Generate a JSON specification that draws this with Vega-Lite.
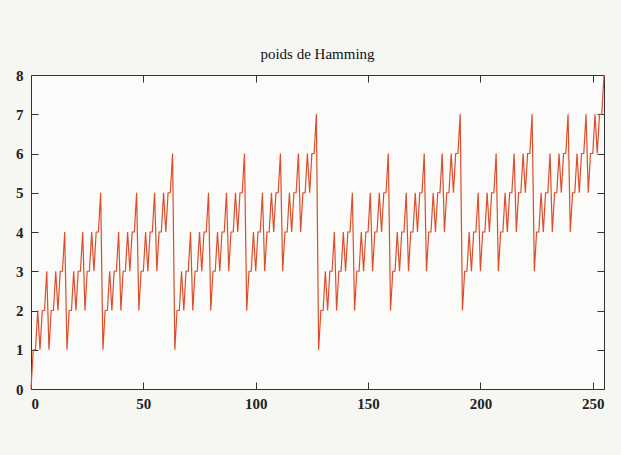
{
  "$schema": "https://vega.github.io/schema/vega-lite/v6.json",
  "autosize": {"type": "none"},
  "width": 573,
  "height": 314,
  "padding": {"left": 31, "top": 75, "right": 17, "bottom": 66},
  "background": "#f6f6f2",
  "title": {"text": "poids de Hamming", "font": "Liberation Serif", "fontSize": 15, "fontWeight": "normal", "color": "#111", "offset": 6},
  "config": {
    "view": {"stroke": "#333", "strokeWidth": 1, "fill": "#fbfbf9"},
    "axis": {"grid": false, "domain": false, "tickSize": -7, "tickColor": "#333", "labelFont": "Liberation Serif", "labelFontSize": 15, "labelFontWeight": "bold", "labelColor": "#222", "title": null}
  },
  "data": {"values": [
{"n":0,"w":0},{"n":1,"w":1},{"n":2,"w":1},{"n":3,"w":2},{"n":4,"w":1},{"n":5,"w":2},{"n":6,"w":2},{"n":7,"w":3},{"n":8,"w":1},{"n":9,"w":2},{"n":10,"w":2},{"n":11,"w":3},{"n":12,"w":2},{"n":13,"w":3},{"n":14,"w":3},{"n":15,"w":4},
{"n":16,"w":1},{"n":17,"w":2},{"n":18,"w":2},{"n":19,"w":3},{"n":20,"w":2},{"n":21,"w":3},{"n":22,"w":3},{"n":23,"w":4},{"n":24,"w":2},{"n":25,"w":3},{"n":26,"w":3},{"n":27,"w":4},{"n":28,"w":3},{"n":29,"w":4},{"n":30,"w":4},{"n":31,"w":5},
{"n":32,"w":1},{"n":33,"w":2},{"n":34,"w":2},{"n":35,"w":3},{"n":36,"w":2},{"n":37,"w":3},{"n":38,"w":3},{"n":39,"w":4},{"n":40,"w":2},{"n":41,"w":3},{"n":42,"w":3},{"n":43,"w":4},{"n":44,"w":3},{"n":45,"w":4},{"n":46,"w":4},{"n":47,"w":5},
{"n":48,"w":2},{"n":49,"w":3},{"n":50,"w":3},{"n":51,"w":4},{"n":52,"w":3},{"n":53,"w":4},{"n":54,"w":4},{"n":55,"w":5},{"n":56,"w":3},{"n":57,"w":4},{"n":58,"w":4},{"n":59,"w":5},{"n":60,"w":4},{"n":61,"w":5},{"n":62,"w":5},{"n":63,"w":6},
{"n":64,"w":1},{"n":65,"w":2},{"n":66,"w":2},{"n":67,"w":3},{"n":68,"w":2},{"n":69,"w":3},{"n":70,"w":3},{"n":71,"w":4},{"n":72,"w":2},{"n":73,"w":3},{"n":74,"w":3},{"n":75,"w":4},{"n":76,"w":3},{"n":77,"w":4},{"n":78,"w":4},{"n":79,"w":5},
{"n":80,"w":2},{"n":81,"w":3},{"n":82,"w":3},{"n":83,"w":4},{"n":84,"w":3},{"n":85,"w":4},{"n":86,"w":4},{"n":87,"w":5},{"n":88,"w":3},{"n":89,"w":4},{"n":90,"w":4},{"n":91,"w":5},{"n":92,"w":4},{"n":93,"w":5},{"n":94,"w":5},{"n":95,"w":6},
{"n":96,"w":2},{"n":97,"w":3},{"n":98,"w":3},{"n":99,"w":4},{"n":100,"w":3},{"n":101,"w":4},{"n":102,"w":4},{"n":103,"w":5},{"n":104,"w":3},{"n":105,"w":4},{"n":106,"w":4},{"n":107,"w":5},{"n":108,"w":4},{"n":109,"w":5},{"n":110,"w":5},{"n":111,"w":6},
{"n":112,"w":3},{"n":113,"w":4},{"n":114,"w":4},{"n":115,"w":5},{"n":116,"w":4},{"n":117,"w":5},{"n":118,"w":5},{"n":119,"w":6},{"n":120,"w":4},{"n":121,"w":5},{"n":122,"w":5},{"n":123,"w":6},{"n":124,"w":5},{"n":125,"w":6},{"n":126,"w":6},{"n":127,"w":7},
{"n":128,"w":1},{"n":129,"w":2},{"n":130,"w":2},{"n":131,"w":3},{"n":132,"w":2},{"n":133,"w":3},{"n":134,"w":3},{"n":135,"w":4},{"n":136,"w":2},{"n":137,"w":3},{"n":138,"w":3},{"n":139,"w":4},{"n":140,"w":3},{"n":141,"w":4},{"n":142,"w":4},{"n":143,"w":5},
{"n":144,"w":2},{"n":145,"w":3},{"n":146,"w":3},{"n":147,"w":4},{"n":148,"w":3},{"n":149,"w":4},{"n":150,"w":4},{"n":151,"w":5},{"n":152,"w":3},{"n":153,"w":4},{"n":154,"w":4},{"n":155,"w":5},{"n":156,"w":4},{"n":157,"w":5},{"n":158,"w":5},{"n":159,"w":6},
{"n":160,"w":2},{"n":161,"w":3},{"n":162,"w":3},{"n":163,"w":4},{"n":164,"w":3},{"n":165,"w":4},{"n":166,"w":4},{"n":167,"w":5},{"n":168,"w":3},{"n":169,"w":4},{"n":170,"w":4},{"n":171,"w":5},{"n":172,"w":4},{"n":173,"w":5},{"n":174,"w":5},{"n":175,"w":6},
{"n":176,"w":3},{"n":177,"w":4},{"n":178,"w":4},{"n":179,"w":5},{"n":180,"w":4},{"n":181,"w":5},{"n":182,"w":5},{"n":183,"w":6},{"n":184,"w":4},{"n":185,"w":5},{"n":186,"w":5},{"n":187,"w":6},{"n":188,"w":5},{"n":189,"w":6},{"n":190,"w":6},{"n":191,"w":7},
{"n":192,"w":2},{"n":193,"w":3},{"n":194,"w":3},{"n":195,"w":4},{"n":196,"w":3},{"n":197,"w":4},{"n":198,"w":4},{"n":199,"w":5},{"n":200,"w":3},{"n":201,"w":4},{"n":202,"w":4},{"n":203,"w":5},{"n":204,"w":4},{"n":205,"w":5},{"n":206,"w":5},{"n":207,"w":6},
{"n":208,"w":3},{"n":209,"w":4},{"n":210,"w":4},{"n":211,"w":5},{"n":212,"w":4},{"n":213,"w":5},{"n":214,"w":5},{"n":215,"w":6},{"n":216,"w":4},{"n":217,"w":5},{"n":218,"w":5},{"n":219,"w":6},{"n":220,"w":5},{"n":221,"w":6},{"n":222,"w":6},{"n":223,"w":7},
{"n":224,"w":3},{"n":225,"w":4},{"n":226,"w":4},{"n":227,"w":5},{"n":228,"w":4},{"n":229,"w":5},{"n":230,"w":5},{"n":231,"w":6},{"n":232,"w":4},{"n":233,"w":5},{"n":234,"w":5},{"n":235,"w":6},{"n":236,"w":5},{"n":237,"w":6},{"n":238,"w":6},{"n":239,"w":7},
{"n":240,"w":4},{"n":241,"w":5},{"n":242,"w":5},{"n":243,"w":6},{"n":244,"w":5},{"n":245,"w":6},{"n":246,"w":6},{"n":247,"w":7},{"n":248,"w":5},{"n":249,"w":6},{"n":250,"w":6},{"n":251,"w":7},{"n":252,"w":6},{"n":253,"w":7},{"n":254,"w":7},{"n":255,"w":8}
  ]},
  "layer": [
    {
      "mark": {"type": "line", "color": "#dc4e2c", "strokeWidth": 1.2, "interpolate": "linear"},
      "encoding": {
        "x": {"field": "n", "type": "quantitative", "scale": {"domain": [0, 255], "nice": false}, "axis": {"values": [0, 50, 100, 150, 200, 250], "labelPadding": 14}},
        "y": {"field": "w", "type": "quantitative", "scale": {"domain": [0, 8], "nice": false}, "axis": {"values": [0, 1, 2, 3, 4, 5, 6, 7, 8], "labelPadding": 15}}
      }
    },
    {
      "mark": {"type": "line", "strokeOpacity": 0},
      "encoding": {
        "x": {"field": "n", "type": "quantitative", "scale": {"domain": [0, 255], "nice": false}, "axis": {"orient": "top", "values": [0, 50, 100, 150, 200, 250], "labels": false}},
        "y": {"field": "w", "type": "quantitative", "scale": {"domain": [0, 8], "nice": false}, "axis": {"orient": "right", "values": [0, 1, 2, 3, 4, 5, 6, 7, 8], "labels": false}}
      }
    }
  ],
  "resolve": {"axis": {"x": "independent", "y": "independent"}}
}
